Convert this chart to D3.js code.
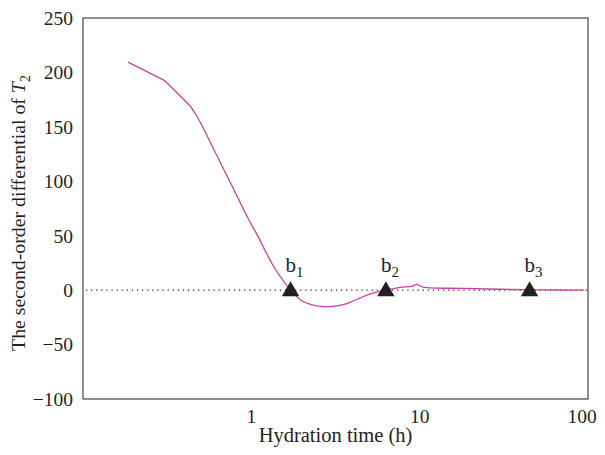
<!DOCTYPE html>
<html>
<head>
<meta charset="utf-8">
<script src="https://cdn.jsdelivr.net/npm/d3@7"></script>
<style>
  body { margin: 0; background: #fff; }
  svg text { font-family: "Liberation Serif", "DejaVu Serif", serif; fill: #231f20; }
</style>
</head>
<body>
<div id="chart"></div>
<script>
// hydration time (h) and second-order differential of T2
const hours = [0.185, 0.306, 0.432, 0.489, 0.614, 0.772, 0.968, 1.085, 1.36, 1.71, 2.0, 2.3, 2.6, 3.0, 3.5, 3.88, 4.87, 6.25, 7.68, 9.0, 9.55, 10.5, 18, 30, 50, 95];
const diff2 = [209.5, 192.4, 169.4, 156.3, 125.7, 95, 64.4, 50.5, 21.5, 0, -10, -13.5, -15, -15, -13.3, -11, -4.5, 0, 2.6, 3.5, 5.3, 2.8, 1.6, 0.8, 0.3, 0];

// marked points b1..b3
const markLabels = ["1", "2", "3"];
const markHours = [1.71, 6.3, 45];

const yTicks = [-100, -50, 0, 50, 100, 150, 200, 250];
const xTicks = [1, 10, 100];

const width = 605, height = 455;
const plotL = 83, plotR = 588, plotT = 18, plotB = 399;

const svg = d3.select("#chart").append("svg")
  .attr("width", width)
  .attr("height", height);

const x = d3.scaleLog().domain([0.1, 100]).range([plotL, plotR]);
const y = d3.scaleLinear().domain([-100, 250]).range([plotB, plotT]);

// zero line (dotted)
svg.append("line")
  .attr("x1", plotL + 3).attr("x2", plotR)
  .attr("y1", y(0)).attr("y2", y(0))
  .attr("stroke", "#231f20")
  .attr("stroke-width", 1.1)
  .attr("stroke-dasharray", "1.2,3.9");

// curve: first few samples joined straight, the rest smoothed
const pts = hours.map((h, i) => [h, diff2[i]]);
const head = 2;

const straight = d3.line()
  .x(d => x(d[0]))
  .y(d => y(d[1]));
const smooth = d3.line()
  .x(d => x(d[0]))
  .y(d => y(d[1]))
  .curve(d3.curveCatmullRom.alpha(0.5));

const curve = svg.append("g")
  .attr("fill", "none")
  .attr("stroke", "#c9439f")
  .attr("stroke-width", 1.3)
  .attr("stroke-linejoin", "round");
curve.append("path").attr("d", straight(pts.slice(0, head + 1)));
curve.append("path").attr("d", smooth(pts.slice(head)));

// triangles + labels
const marks = svg.append("g");
marks.selectAll("path")
  .data(markHours)
  .enter()
  .append("path")
  .attr("d", d3.symbol().type(d3.symbolTriangle).size(130))
  .attr("transform", d => "translate(" + x(d) + "," + (y(0) + 1) + ")")
  .attr("fill", "#231f20");

const lbl = marks.selectAll("text")
  .data(markHours)
  .enter()
  .append("text")
  .attr("x", d => x(d) + 4)
  .attr("y", y(0) - 18)
  .attr("text-anchor", "middle")
  .style("font-size", "21px");
lbl.append("tspan").text("b");
lbl.append("tspan")
  .attr("dy", 5)
  .style("font-size", "15px")
  .text((d, i) => markLabels[i]);

// frame
svg.append("rect")
  .attr("x", plotL).attr("y", plotT)
  .attr("width", plotR - plotL).attr("height", plotB - plotT)
  .attr("fill", "none")
  .attr("stroke", "#333")
  .attr("stroke-width", 1.1);

// y tick labels
svg.append("g").selectAll("text")
  .data(yTicks)
  .enter()
  .append("text")
  .attr("x", plotL - 10)
  .attr("y", d => y(d))
  .attr("dy", "0.35em")
  .attr("text-anchor", "end")
  .style("font-size", "19.5px")
  .text(d => d < 0 ? "\u2212" + Math.abs(d) : d);

// x tick labels
svg.append("g").selectAll("text")
  .data(xTicks)
  .enter()
  .append("text")
  .attr("x", d => x(d))
  .attr("dx", d => d === 100 ? -6 : 0)
  .attr("y", plotB + 24)
  .attr("text-anchor", "middle")
  .style("font-size", "19.5px")
  .text(d => d);

// axis titles
svg.append("text")
  .attr("x", (plotL + plotR) / 2)
  .attr("y", plotB + 43)
  .attr("text-anchor", "middle")
  .style("font-size", "20.5px")
  .text("Hydration time (h)");

const yt = svg.append("text")
  .attr("transform", "translate(25,213) rotate(-90)")
  .attr("text-anchor", "middle")
  .style("font-size", "19.8px");
yt.append("tspan").text("The second-order differential of ");
yt.append("tspan").style("font-style", "italic").text("T");
yt.append("tspan").attr("dy", 5).style("font-size", "14px").text("2");
</script>
</body>
</html>
